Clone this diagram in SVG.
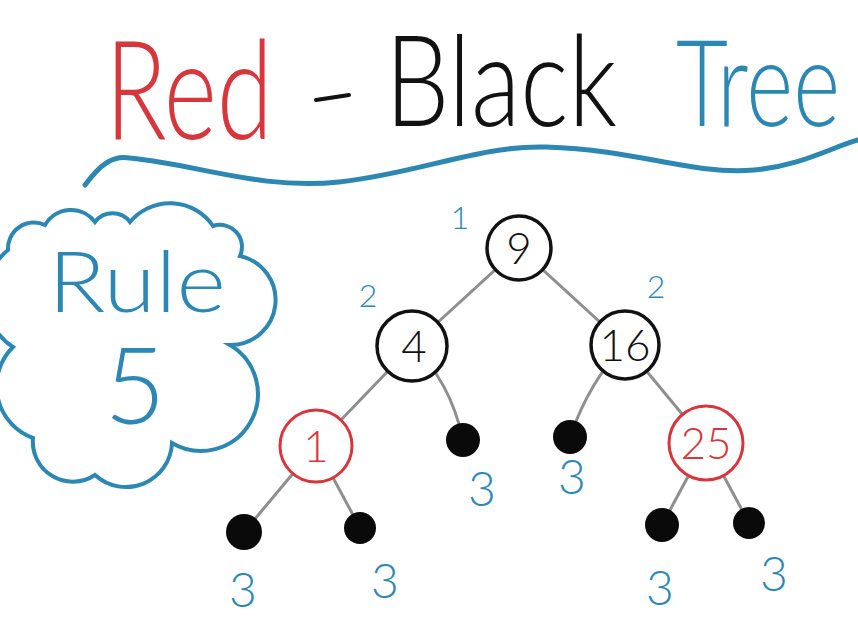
<svg xmlns="http://www.w3.org/2000/svg" width="858" height="625" viewBox="0 0 858 625">
<style>
.hand{font-family:"Lato","Open Sans","Liberation Sans",sans-serif;font-weight:300}
.blue{fill:#2d87b3}
.red{fill:#d7373c}
.edge{stroke:#8f8f8f;stroke-width:3;fill:none;stroke-linecap:round}
.nb{fill:#fff;stroke:#111;stroke-width:3.5}
.nr{fill:#fff;stroke:#d7373c;stroke-width:3}
.leaf{fill:#0a0a0a}
.num{font-family:"Lato","Open Sans","Liberation Sans",sans-serif;font-weight:300;font-size:44px;text-anchor:middle}
.lab{font-family:"Lato","Open Sans","Liberation Sans",sans-serif;font-weight:300;fill:#2d87b3;text-anchor:middle}
</style>
<rect width="858" height="625" fill="#fff"/>
<g id="title">
<text class="hand red" x="105" y="139" font-size="138" textLength="168" lengthAdjust="spacingAndGlyphs">Red</text>
<path d="M316,100 L349,95" stroke="#111" stroke-width="4" stroke-linecap="round"/>
<text class="hand" fill="#111" x="385" y="126" font-size="126" textLength="232" lengthAdjust="spacingAndGlyphs">Black</text>
<text class="hand blue" transform="translate(676,126) scale(1,1.45)" x="0" y="0" font-size="83" textLength="164" lengthAdjust="spacingAndGlyphs">Tree</text>
</g>
<path id="underline" d="M85,185 C100,165 112,155 130,158 C200,165 260,190 339,182 C420,173 480,145 546,147 C640,150 690,175 754,170 C800,166 830,148 858,140" fill="none" stroke="#2d87b3" stroke-width="5" stroke-linecap="round"/>
<g id="cloud">
<path d="M8,250 A26,26 0 0 1 45,225 A30,30 0 0 1 95,222 A22,22 0 0 1 130,222 A52,52 0 0 1 213,226 A22,22 0 0 1 240,256 A45,45 0 0 1 230,345 A52,52 0 0 1 172,443 A46,46 0 0 1 95,475 A40,40 0 0 1 33,438 A55,55 0 0 1 13,347 A60,60 0 0 1 8,250 Z" fill="none" stroke="#2d87b3" stroke-width="4"/>
<text class="hand blue" x="48" y="312" font-size="84" textLength="178" lengthAdjust="spacingAndGlyphs">Rule</text>
<text class="hand blue" x="135" y="424" font-size="106" text-anchor="middle">5</text>
</g>
<g id="connectors">
<line class="edge" x1="519" y1="248" x2="412" y2="346"/>
<line class="edge" x1="519" y1="248" x2="625" y2="345"/>
<line class="edge" x1="412" y1="346" x2="316" y2="446"/>
<path class="edge" d="M412,346 Q450,380 463,440"/>
<path class="edge" d="M625,345 Q590,380 570,437"/>
<line class="edge" x1="625" y1="345" x2="706" y2="443"/>
<line class="edge" x1="316" y1="446" x2="244" y2="532"/>
<line class="edge" x1="316" y1="446" x2="360" y2="528"/>
<line class="edge" x1="706" y1="443" x2="662" y2="525"/>
<line class="edge" x1="706" y1="443" x2="749" y2="523"/>
</g>
<g id="n9"><circle class="nb" cx="519" cy="248" r="32"/><text class="num" x="519" y="264" fill="#111">9</text></g>
<g id="n4"><circle class="nb" cx="412" cy="346" r="35"/><text class="num" x="414" y="362" fill="#111">4</text></g>
<g id="n16"><circle class="nb" cx="625" cy="345" r="34"/><text class="num" x="625" y="361" fill="#111">16</text></g>
<g id="n1"><circle class="nr" cx="316" cy="446" r="36"/><text class="num red" x="316" y="462">1</text></g>
<g id="n25"><circle class="nr" cx="706" cy="443" r="37"/><text class="num red" x="706" y="459">25</text></g>
<g id="leaf4r"><circle class="leaf" cx="463" cy="440" r="17"/></g>
<g id="leaf16l"><circle class="leaf" cx="570" cy="437" r="17"/></g>
<g id="leaf1l"><circle class="leaf" cx="244" cy="532" r="18"/></g>
<g id="leaf1r"><circle class="leaf" cx="360" cy="528" r="16"/></g>
<g id="leaf25l"><circle class="leaf" cx="662" cy="525" r="17"/></g>
<g id="leaf25r"><circle class="leaf" cx="749" cy="523" r="16"/></g>
<g id="labels">
<text class="lab" x="460" y="229" font-size="32">1</text>
<text class="lab" x="368" y="307" font-size="32">2</text>
<text class="lab" x="656" y="298" font-size="32">2</text>
<text class="lab" x="482" y="506" font-size="48">3</text>
<text class="lab" x="572" y="494" font-size="48">3</text>
<text class="lab" x="243" y="607" font-size="48">3</text>
<text class="lab" x="385" y="598" font-size="48">3</text>
<text class="lab" x="660" y="605" font-size="48">3</text>
<text class="lab" x="774" y="591" font-size="48">3</text>
</g>
</svg>
